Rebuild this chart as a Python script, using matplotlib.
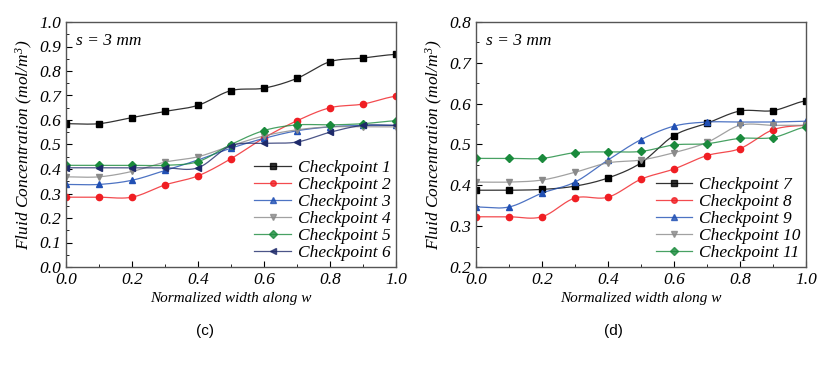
import numpy as np
import matplotlib
matplotlib.use("Agg")
import matplotlib.pyplot as plt
from matplotlib.ticker import MultipleLocator, FormatStrFormatter

# data
x = [0.0, 0.1, 0.2, 0.3, 0.4, 0.5, 0.6, 0.7, 0.8, 0.9, 1.0]

cp1 = [0.585, 0.585, 0.61, 0.635, 0.66, 0.72, 0.73, 0.77, 0.838, 0.853, 0.868]
cp2 = [0.285, 0.285, 0.285, 0.335, 0.372, 0.442, 0.527, 0.597, 0.65, 0.665, 0.697]
cp3 = [0.337, 0.337, 0.354, 0.394, 0.437, 0.485, 0.525, 0.556, 0.572, 0.578, 0.578]
cp4 = [0.368, 0.368, 0.39, 0.428, 0.45, 0.495, 0.535, 0.56, 0.572, 0.572, 0.572]
cp5 = [0.415, 0.415, 0.415, 0.415, 0.43, 0.5, 0.557, 0.58, 0.58, 0.585, 0.597]
cp6 = [0.405, 0.405, 0.405, 0.405, 0.405, 0.495, 0.505, 0.51, 0.55, 0.578, 0.578]

cp7 = [0.388, 0.388, 0.39, 0.398, 0.418, 0.455, 0.522, 0.552, 0.582, 0.583, 0.607]
cp8 = [0.323, 0.323, 0.323, 0.369, 0.371, 0.415, 0.44, 0.473, 0.49, 0.536, 0.547]
cp9 = [0.347, 0.347, 0.381, 0.408, 0.462, 0.512, 0.545, 0.555, 0.555, 0.555, 0.557]
cp10 = [0.408, 0.408, 0.413, 0.432, 0.455, 0.462, 0.48, 0.505, 0.547, 0.547, 0.547]
cp11 = [0.466, 0.466, 0.466, 0.48, 0.482, 0.483, 0.499, 0.502, 0.515, 0.517, 0.543]

left_series = [("Checkpoint 1", cp1), ("Checkpoint 2", cp2), ("Checkpoint 3", cp3),
               ("Checkpoint 4", cp4), ("Checkpoint 5", cp5), ("Checkpoint 6", cp6)]
right_series = [("Checkpoint 7", cp7), ("Checkpoint 8", cp8), ("Checkpoint 9", cp9),
                ("Checkpoint 10", cp10), ("Checkpoint 11", cp11)]

styles = [("#000000", "s"), ("#f01e23", "o"), ("#2150b4", "^"),
          ("#8a8a8a", "v"), ("#1a8a3c", "D"), ("#1e2a6a", "<")]


def smooth(xs, ys, n=20):
    # catmull-rom curve through the points (connection line only)
    xs = np.asarray(xs, float)
    ys = np.asarray(ys, float)
    px = np.concatenate([[2*xs[0]-xs[1]], xs, [2*xs[-1]-xs[-2]]])
    py = np.concatenate([[ys[0]], ys, [ys[-1]]])
    ox, oy = [], []
    t = np.linspace(0, 1, n, endpoint=False)
    for i in range(1, len(px)-2):
        for arr, out in ((px, ox), (py, oy)):
            p0, p1, p2, p3 = arr[i-1], arr[i], arr[i+1], arr[i+2]
            out.extend(0.5*((2*p1) + (-p0+p2)*t + (2*p0-5*p1+4*p2-p3)*t**2
                            + (-p0+3*p1-3*p2+p3)*t**3))
    ox.append(xs[-1])
    oy.append(ys[-1])
    return np.array(ox), np.array(oy)


plt.rcParams["font.family"] = ["Liberation Serif", "DejaVu Serif"]
plt.rcParams["mathtext.fontset"] = "custom"
plt.rcParams["mathtext.it"] = "Liberation Serif:italic"
plt.rcParams["mathtext.rm"] = "Liberation Serif:italic"

fig = plt.figure(figsize=(8.21, 3.65), dpi=100)
ax1 = fig.add_axes([66/821, 1-267/365, 330/821, 245/365])
ax2 = fig.add_axes([476/821, 1-267/365, 330/821, 245/365])


def draw(ax, series, ylim):
    for (name, ys), (col, mk) in zip(series, styles):
        sx, sy = smooth(x, ys)
        ax.plot(sx, sy, color=col, lw=0.9, alpha=0.8)
        ax.plot(x, ys, ls="none", marker=mk, color=col, ms=4.5)
        ax.plot([], [], color=col, lw=0.9, alpha=0.8, marker=mk, ms=4,
                mfc=col, mec=col, label=name)
    ax.set_xlim(0, 1)
    ax.set_ylim(*ylim)
    ax.xaxis.set_major_locator(MultipleLocator(0.2))
    ax.xaxis.set_minor_locator(MultipleLocator(0.1))
    ax.yaxis.set_major_locator(MultipleLocator(0.1))
    ax.yaxis.set_minor_locator(MultipleLocator(0.05))
    ax.xaxis.set_major_formatter(FormatStrFormatter("%.1f"))
    ax.yaxis.set_major_formatter(FormatStrFormatter("%.1f"))
    ax.tick_params(which="both", direction="in", top=False, right=False, labelsize=12.5)
    ax.tick_params(which="major", length=4)
    ax.tick_params(which="minor", length=2.5)
    for sp in ax.spines.values():
        sp.set_color("#555555")
        sp.set_linewidth(1.0)
    ax.set_xlabel("Normalized width along w", fontstyle="italic", fontsize=11, labelpad=3)
    ax.set_ylabel("Fluid Concentration $(mol/m^3)$", fontstyle="italic", fontsize=12.5, labelpad=3)
    ax.text(0.03, 0.955, "s = 3 mm", transform=ax.transAxes, fontstyle="italic",
            fontsize=12.5, va="top", ha="left")
    ax.legend(loc="lower right", bbox_to_anchor=(1.015, -0.02), frameon=False,
              prop={"style": "italic", "size": 12.5}, handlelength=2.1,
              handletextpad=0.4, labelspacing=0.05, borderaxespad=0.2)


draw(ax1, left_series, (0, 1.0))
draw(ax2, right_series, (0.2, 0.8))

for ax in (ax1, ax2):
    for lab in ax.get_xticklabels() + ax.get_yticklabels():
        lab.set_style("italic")

fig.text(205/821, 1-331/365, "(c)", ha="center", va="center", fontsize=11,
         family="Liberation Sans")
fig.text(613/821, 1-331/365, "(d)", ha="center", va="center", fontsize=11,
         family="Liberation Sans")

fig.savefig("out.png", dpi=100)
